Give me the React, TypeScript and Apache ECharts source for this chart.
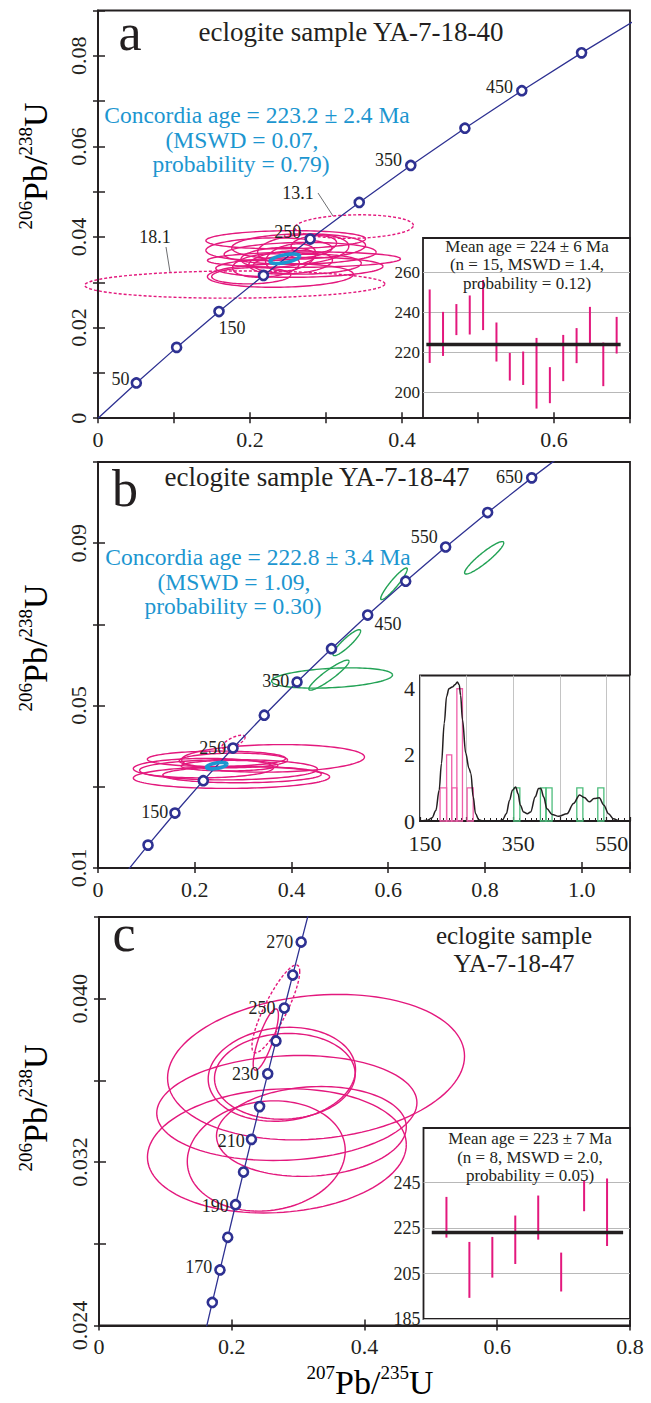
import React, { useEffect, useRef } from 'react';
import * as echarts from 'echarts';

const FONT = "'Liberation Serif', 'Times New Roman', serif";
const INK = '#231f20';
const NAVY = '#2e3192';
const PINK = '#e3187d';
const GREEN = '#22a255';
const CYAN = '#1c96d0';
const HIST_PINK = '#ef5fa9';
const HIST_GREEN = '#4dbd7c';

// Concordia reference points (207Pb/235U, 206Pb/238U) every 50 Ma
const conc50Age = [0, 50, 100, 150, 200, 250, 300, 350, 400, 450, 500, 550, 600, 650, 700];
const conc50X = [0, 0.05048, 0.1035, 0.15919, 0.21771, 0.27917, 0.34374, 0.41156, 0.48281, 0.55766, 0.63628, 0.71887, 0.80563, 0.89677, 0.99252];
const conc50Y = [0, 0.007786, 0.015633, 0.023542, 0.031511, 0.039543, 0.047637, 0.055794, 0.064016, 0.072294, 0.08065, 0.089064, 0.097544, 0.10609, 0.1147];
// Concordia reference points every 10 Ma
const conc10Age = [150, 160, 170, 180, 190, 200, 210, 220, 230, 240, 250, 260, 270, 280];
const conc10X = [0.15919, 0.17068, 0.18226, 0.19396, 0.20577, 0.21771, 0.22975, 0.24192, 0.25422, 0.26664, 0.27917, 0.29183, 0.30459, 0.31753];
const conc10Y = [0.023542, 0.025131, 0.026722, 0.028316, 0.029913, 0.031511, 0.033113, 0.034717, 0.036323, 0.037932, 0.039543, 0.041157, 0.042773, 0.044392];

const markerAgesA = [50, 100, 150, 200, 250, 300, 350, 400, 450, 500];
const labelAgesA = [50, 150, 250, 350, 450];
const markerAgesB = [100, 150, 200, 250, 300, 350, 400, 450, 500, 550, 600, 650];
const labelAgesB = [150, 250, 350, 450, 550, 650];
const markerAgesC = [160, 170, 180, 190, 200, 210, 220, 230, 240, 250, 260, 270];
const labelAgesC = [170, 190, 210, 230, 250, 270];

// error ellipses: [x centre, y centre, x half-width, y half-width, correlation]
const ellipsesA = [
  [0.247, 0.0394, 0.105, 0.002, 0.1],
  [0.225, 0.0373, 0.083, 0.0025, 0.1],
  [0.271, 0.035, 0.127, 0.0017, 0.1],
  [0.24, 0.0315, 0.096, 0.0026, 0.1],
  [0.265, 0.0333, 0.11, 0.0022, 0.1],
  [0.266, 0.0364, 0.1, 0.0024, 0.1],
  [0.264, 0.0379, 0.088, 0.0028, 0.1],
  [0.237, 0.0355, 0.049, 0.0022, 0.2],
  [0.2535, 0.0344, 0.055, 0.0026, 0.2],
  [0.27, 0.0373, 0.06, 0.0033, 0.2],
  [0.2535, 0.0355, 0.033, 0.003, 0.3],
  [0.221, 0.0337, 0.044, 0.0026, 0.2],
  [0.2755, 0.034, 0.071, 0.0022, 0.1],
  [0.284, 0.0383, 0.03, 0.002, 0.2],
  [0.2016, 0.03145, 0.052, 0.0018, 0.1],
];
const dashedA = [
  [0.337, 0.0423, 0.078, 0.0026, 0.1],
  [0.18, 0.0295, 0.1975, 0.003, 0.05],
];
const concordiaEllA = [[0.2458, 0.0352, 0.0194, 0.00105, 0.55]];

const ellipsesB = [
  [0.362, 0.037, 0.189, 0.0034, 0.1],
  [0.276, 0.0323, 0.203, 0.0027, 0.05],
  [0.245, 0.0369, 0.143, 0.0019, 0.05],
  [0.27, 0.0342, 0.184, 0.0025, 0.05],
  [0.298, 0.033, 0.164, 0.002, 0.05],
  [0.28, 0.0365, 0.112, 0.0018, 0.05],
  [0.272, 0.0352, 0.1, 0.0013, 0.05],
  [0.218, 0.0346, 0.145, 0.0024, 0.05],
];
const dashedB = [[0.28, 0.041, 0.024, 0.0017, 0.7]];
const concordiaEllB = [[0.2454, 0.0352, 0.021, 0.0008, 0.5]];
const greenB = [
  [0.7985, 0.0864, 0.0405, 0.004, 0.92],
  [0.612, 0.08, 0.0275, 0.0039, 0.93],
  [0.5145, 0.0655, 0.0285, 0.0032, 0.9],
  [0.484, 0.0568, 0.125, 0.0025, 0.3],
  [0.4775, 0.0575, 0.0415, 0.0037, 0.92],
];

const ellipsesC = [
  [0.327, 0.03665, 0.2237, 0.00356, 0.15],
  [0.283, 0.03465, 0.196, 0.00257, 0.1],
  [0.268, 0.03255, 0.195, 0.00304, 0.1],
  [0.252, 0.0323, 0.119, 0.0027, 0.1],
  [0.32, 0.0335, 0.143, 0.0022, 0.1],
  [0.2755, 0.0363, 0.111, 0.0023, 0.1],
  [0.28, 0.0362, 0.106, 0.0021, 0.05],
  [0.2513, 0.038, 0.019, 0.0015, 0.8],
];
const dashedC = [[0.2664, 0.0395, 0.036, 0.00215, 0.85]];

// weighted-mean insets (206Pb/238U ages, Ma)
const lowA = [214.8, 218.3, 228.7, 229, 231.2, 215.5, 206, 203.8, 192, 194.7, 205.7, 214.7, 224.3, 203.2, 219.5];
const highA = [251.5, 240.3, 244.2, 248.5, 256.2, 235, 219.8, 220.5, 227.3, 212.7, 228.8, 232.2, 242.8, 225, 237.8];
const meanA = 224;
const lowC = [220.8, 194.3, 203.2, 209.2, 219.9, 197.1, 232.4, 217.1];
const highC = [238.7, 218.9, 221.1, 230.5, 239.3, 214.2, 246, 246.8];
const meanC = 223;
const insetTicksA = [200, 220, 240, 260];
const insetTicksC = [185, 205, 225, 245];

// age histogram + probability density (panel b inset)
const pinkBinStart = [193, 207, 218, 229, 251];
const pinkBinEnd = [207, 218, 229, 241, 264];
const pinkCount = [1, 2, 1, 4, 1];
const greenBinStart = [351, 408, 420, 486, 531];
const greenBinEnd = [364, 420, 433, 499, 544];
const greenCount = [1, 1, 1, 1, 1];
const kdeAge = [152, 166, 176, 184, 191, 196, 202, 207, 212, 219, 225, 230, 234, 237, 241, 248, 255, 259, 264, 269, 276, 285, 318, 327, 335, 342, 348, 355, 360, 365, 372, 380, 387, 397, 404, 409, 415, 422, 433, 447, 465, 479, 492, 502, 513, 523, 534, 544, 554, 564, 578, 600];
const kdeDensity = [0, 0.02, 0.1, 0.32, 0.93, 1.74, 2.96, 3.77, 4.0, 4.05, 4.12, 4.2, 4.12, 3.8, 3.06, 2.05, 1.59, 1.44, 0.73, 0.22, 0.04, 0, 0, 0.04, 0.22, 0.63, 0.93, 1.03, 0.83, 0.48, 0.27, 0.22, 0.27, 0.73, 0.98, 0.98, 0.73, 0.37, 0.2, 0.14, 0.22, 0.53, 0.79, 0.71, 0.58, 0.68, 0.7, 0.48, 0.22, 0.07, 0, 0];

// label placement (style only)
const lblA: Record<number, any> = {
  50: { position: 'left', distance: 1, offset: [0, -4] },
  150: { position: 'bottom', distance: 2, offset: [13, 0] },
  250: { position: 'left', distance: 3, offset: [0, -7] },
  350: { position: 'left', distance: 3, offset: [0, -5] },
  450: { position: 'left', distance: 3, offset: [0, -4] },
};
const lblB: Record<number, any> = {
  150: { position: 'left', distance: 1, offset: [0, -1] },
  250: { position: 'left', distance: 1, offset: [0, 0] },
  350: { position: 'left', distance: 2, offset: [0, -1] },
  450: { position: 'right', distance: 1, offset: [0, 9] },
  550: { position: 'left', distance: 2, offset: [0, -10] },
  650: { position: 'left', distance: 3, offset: [0, -1] },
};
const lblC: Record<number, any> = {
  170: { position: 'left', distance: 2, offset: [0, -3] },
  190: { position: 'left', distance: 1, offset: [0, 1] },
  210: { position: 'left', distance: 1, offset: [0, 2] },
  230: { position: 'left', distance: 3, offset: [0, 0] },
  250: { position: 'left', distance: 3, offset: [0, 0] },
  270: { position: 'left', distance: 2, offset: [0, 0] },
};

function ellipseSeries(data: number[][], xi: number, yi: number, color: string, width: number, dash: number[] | null, z: number) {
  return {
    type: 'custom',
    xAxisIndex: xi,
    yAxisIndex: yi,
    clip: false,
    silent: true,
    z,
    data,
    renderItem: (params: any, api: any) => {
      const cx = api.value(0), cy = api.value(1), sx = api.value(2), sy = api.value(3), r = api.value(4);
      const q = Math.sqrt(1 - r * r);
      const pts: number[][] = [];
      for (let k = 0; k <= 120; k++) {
        const t = (k / 120) * Math.PI * 2;
        pts.push(api.coord([cx + sx * Math.cos(t), cy + sy * (r * Math.cos(t) + q * Math.sin(t))]));
      }
      return {
        type: 'polyline',
        shape: { points: pts },
        style: { fill: 'none', stroke: color, lineWidth: width, lineDash: dash || undefined },
      };
    },
  };
}

function concordiaLine(ages: number[], xs: number[], ys: number[], maxAge: number, xi: number, yi: number) {
  const data: number[][] = [];
  ages.forEach((a, i) => { if (a <= maxAge) data.push([xs[i], ys[i]]); });
  return {
    type: 'line', xAxisIndex: xi, yAxisIndex: yi, data, showSymbol: false, silent: true, z: 3, clip: true,
    lineStyle: { color: NAVY, width: 1.3 },
  };
}

function markerSeries(ages: number[], labelAges: number[], cfg: Record<number, any>, tAge: number[], tX: number[], tY: number[], xi: number, yi: number) {
  const data = ages.map((a) => {
    const i = tAge.indexOf(a);
    const show = labelAges.indexOf(a) >= 0;
    return {
      value: [tX[i], tY[i]],
      label: show
        ? { show: true, formatter: String(a), fontSize: 18, fontFamily: FONT, color: INK, ...cfg[a] }
        : { show: false },
    };
  });
  return {
    type: 'scatter', xAxisIndex: xi, yAxisIndex: yi, data, symbol: 'circle', symbolSize: 9, z: 6, silent: true,
    itemStyle: { color: '#ffffff', borderColor: NAVY, borderWidth: 2.6, opacity: 1 },
  };
}

function errorBarSeries(low: number[], high: number[], xi: number, yi: number) {
  return {
    type: 'custom', xAxisIndex: xi, yAxisIndex: yi, silent: true, z: 4,
    data: low.map((l, i) => [i + 1, l, high[i]]),
    renderItem: (params: any, api: any) => {
      const p1 = api.coord([api.value(0), api.value(1)]);
      const p2 = api.coord([api.value(0), api.value(2)]);
      return { type: 'line', shape: { x1: p1[0], y1: p1[1], x2: p2[0], y2: p2[1] }, style: { stroke: PINK, lineWidth: 2 } };
    },
  };
}

function histSeries(start: number[], end: number[], count: number[], color: string, xi: number, yi: number) {
  return {
    type: 'custom', xAxisIndex: xi, yAxisIndex: yi, silent: true, z: 3,
    data: start.map((s, i) => [s, end[i], count[i]]),
    renderItem: (params: any, api: any) => {
      const p1 = api.coord([api.value(0), api.value(2)]);
      const p2 = api.coord([api.value(1), 0]);
      return {
        type: 'rect',
        shape: { x: p1[0], y: p1[1], width: p2[0] - p1[0], height: p2[1] - p1[1] },
        style: { fill: 'none', stroke: color, lineWidth: 1.3 },
      };
    },
  };
}

const tickFont = { fontSize: 22, fontFamily: FONT, color: INK };

function mainX(grid: number, min: number, max: number, interval: number, fmt: (v: number) => string) {
  return {
    type: 'value', gridIndex: grid, min, max, interval, position: 'bottom',
    axisLine: { show: true, onZero: false, lineStyle: { color: INK, width: 1.8 } },
    axisTick: { show: true, inside: false, length: 5, lineStyle: { color: INK, width: 1.5 } },
    axisLabel: { show: true, formatter: fmt, margin: 10, ...tickFont },
    splitLine: { show: false },
  };
}
function dupX(grid: number, min: number, max: number, interval: number) {
  return {
    type: 'value', gridIndex: grid, min, max, interval, position: 'bottom',
    axisLine: { show: false }, axisLabel: { show: false }, splitLine: { show: false },
    axisTick: { show: true, inside: true, length: 6, lineStyle: { color: INK, width: 1.5 } },
  };
}
function mainY(grid: number, min: number, max: number, interval: number, fmt: (v: number) => string) {
  return {
    type: 'value', gridIndex: grid, min, max, interval, position: 'left',
    axisLine: { show: true, onZero: false, lineStyle: { color: INK, width: 1.8 } },
    axisTick: { show: true, inside: false, length: 5, lineStyle: { color: INK, width: 1.5 } },
    axisLabel: { show: true, formatter: fmt, rotate: 90, margin: 9, ...tickFont },
    splitLine: { show: false },
  };
}
function dupY(grid: number, min: number, max: number, interval: number) {
  return {
    type: 'value', gridIndex: grid, min, max, interval, position: 'left',
    axisLine: { show: false }, axisLabel: { show: false }, splitLine: { show: false },
    axisTick: { show: true, inside: true, length: 7, lineStyle: { color: INK, width: 1.5 } },
  };
}
function hiddenAxis(grid: number, min: number, max: number) {
  return { type: 'value', gridIndex: grid, min, max, show: false, splitLine: { show: false } };
}
function meanInsetY(grid: number, min: number, max: number, ticks: number[], fs: number) {
  return {
    type: 'value', gridIndex: grid, min, max, position: 'left',
    axisLine: { show: false },
    axisTick: { show: false, customValues: ticks },
    axisLabel: { show: true, customValues: ticks, margin: 3, fontSize: fs, fontFamily: FONT, color: INK },
    splitLine: { show: true, lineStyle: { color: '#b8b8b8', width: 1 } },
  };
}

const fmtAx = (v: number) => { const k = Math.round(v * 10); return k % 2 ? '' : k === 0 ? '0' : (k / 10).toFixed(1); };
const fmtAy = (v: number) => { const k = Math.round(v * 100); return k % 2 ? '' : k === 0 ? '0' : (k / 100).toFixed(2); };
const fmtBx = (v: number) => { const k = Math.round(v * 10); return k % 2 || k > 10 ? '' : k === 0 ? '0' : (k / 10).toFixed(1); };
const fmtBy = (v: number) => { const k = Math.round((v - 0.01) / 0.02); return k % 2 ? '' : v.toFixed(2); };
const fmtCx = (v: number) => { const k = Math.round(v * 10); return k === 0 ? '0' : (k / 10).toFixed(1); };
const fmtCy = (v: number) => { const k = Math.round((v - 0.024) / 0.004); return k % 2 ? '' : v.toFixed(3); };

const yTitleRich = {
  s: { fontSize: 19, fontFamily: FONT, color: INK, verticalAlign: 'top', lineHeight: 20 },
  b: { fontSize: 34, fontFamily: FONT, color: INK, verticalAlign: 'bottom', lineHeight: 36 },
};
const titleText = (pre: string, post: string) => `{s|${pre}}{b|Pb/}{s|${post}}{b|U}`;

function txt(x: number, y: number, text: string, size: number, color = INK, align = 'center') {
  return { type: 'text', x, y, silent: true, z: 50, style: { text, fontSize: size, fontFamily: FONT, fill: color, align, verticalAlign: 'middle' } };
}

export default function App() {
  const ref = useRef<HTMLDivElement>(null);
  useEffect(() => {
    if (!ref.current) return;
    const chart = echarts.init(ref.current, null, { renderer: 'svg' });
    const gridBase = { show: true, borderColor: INK, borderWidth: 1.8, containLabel: false, outerBoundsMode: 'none' };
    const option: any = {
      animation: false,
      backgroundColor: '#ffffff',
      grid: [
        { ...gridBase, left: 98, top: 10.5, width: 532, height: 407.7, backgroundColor: 'transparent' },
        { ...gridBase, left: 423, top: 238, width: 207, height: 180.2, backgroundColor: '#ffffff' },
        { ...gridBase, left: 98, top: 462, width: 532, height: 406, backgroundColor: 'transparent' },
        { ...gridBase, left: 420, top: 675.5, width: 210, height: 145.5, backgroundColor: '#ffffff' },
        { ...gridBase, left: 99, top: 917, width: 531, height: 408.5, backgroundColor: 'transparent' },
        { ...gridBase, left: 423.5, top: 1128, width: 206.5, height: 191, backgroundColor: '#ffffff' },
      ],
      xAxis: [
        mainX(0, 0, 0.7, 0.1, fmtAx),
        dupX(0, 0, 0.7, 0.1),
        hiddenAxis(1, 0.5, 16),
        mainX(2, 0, 1.1, 0.2, fmtBx),
        dupX(2, 0, 1.1, 0.2),
        {
          type: 'value', gridIndex: 3, min: 150, max: 600, interval: 100, position: 'bottom',
          axisLine: { show: true, onZero: false, lineStyle: { color: INK, width: 1.6 } },
          axisTick: { show: true, inside: true, length: 4, lineStyle: { color: INK, width: 1.2 } },
          minorTick: { show: true, splitNumber: 8, length: 3, lineStyle: { color: INK, width: 1 } },
          axisLabel: { formatter: (v: number) => ((v - 150) % 200 === 0 ? String(v) : ''), margin: 11, padding: [0, 0, 0, 10], ...tickFont },
          splitLine: { show: true, lineStyle: { color: '#c4c4c4', width: 1 } },
        },
        mainX(4, 0, 0.8, 0.2, fmtCx),
        dupX(4, 0, 0.8, 0.2),
        hiddenAxis(5, 0, 9),
      ],
      yAxis: [
        mainY(0, 0, 0.09, 0.01, fmtAy),
        dupY(0, 0, 0.09, 0.01),
        meanInsetY(1, 187.2, 277.2, insetTicksA, 17),
        mainY(2, 0.01, 0.11, 0.02, fmtBy),
        dupY(2, 0.01, 0.11, 0.02),
        {
          type: 'value', gridIndex: 3, min: 0, max: 4.4, interval: 2, position: 'left',
          axisLine: { show: false }, axisTick: { show: false }, splitLine: { show: false },
          axisLabel: { formatter: (v: number) => (v > 4.01 ? '' : String(v)), margin: 5, ...tickFont },
        },
        mainY(4, 0.024, 0.044, 0.004, fmtCy),
        dupY(4, 0.024, 0.044, 0.004),
        meanInsetY(5, 185, 269, insetTicksC, 18),
      ],
      series: [
        // panel a
        ellipseSeries(ellipsesA, 0, 0, PINK, 1.4, null, 2),
        ellipseSeries(dashedA, 0, 0, PINK, 1.4, [3, 2], 2),
        concordiaLine(conc50Age, conc50X, conc50Y, 550, 0, 0),
        ellipseSeries(concordiaEllA, 0, 0, CYAN, 3.6, null, 5),
        markerSeries(markerAgesA, labelAgesA, lblA, conc50Age, conc50X, conc50Y, 0, 0),
        // inset a
        errorBarSeries(lowA, highA, 2, 2),
        {
          type: 'line', xAxisIndex: 2, yAxisIndex: 2, data: [[0.75, meanA], [15.3, meanA]], showSymbol: false, silent: true, z: 5,
          lineStyle: { color: INK, width: 3.5 },
        },
        // panel b
        ellipseSeries(ellipsesB, 3, 3, PINK, 1.4, null, 2),
        ellipseSeries(dashedB, 3, 3, PINK, 1.4, [3, 2], 2),
        ellipseSeries(greenB, 3, 3, GREEN, 1.4, null, 2),
        concordiaLine(conc50Age, conc50X, conc50Y, 700, 3, 3),
        ellipseSeries(concordiaEllB, 3, 3, CYAN, 3.6, null, 5),
        markerSeries(markerAgesB, labelAgesB, lblB, conc50Age, conc50X, conc50Y, 3, 3),
        // inset b
        histSeries(pinkBinStart, pinkBinEnd, pinkCount, HIST_PINK, 5, 5),
        histSeries(greenBinStart, greenBinEnd, greenCount, HIST_GREEN, 5, 5),
        {
          type: 'line', xAxisIndex: 5, yAxisIndex: 5, data: kdeAge.map((a, i) => [a, kdeDensity[i]]),
          showSymbol: false, silent: true, smooth: 0.35, smoothMonotone: 'x', z: 5,
          lineStyle: { color: INK, width: 1.5 },
        },
        // panel c
        ellipseSeries(ellipsesC, 6, 6, PINK, 1.4, null, 2),
        ellipseSeries(dashedC, 6, 6, PINK, 1.4, [3, 2], 2),
        concordiaLine(conc10Age, conc10X, conc10Y, 280, 6, 6),
        markerSeries(markerAgesC, labelAgesC, lblC, conc10Age, conc10X, conc10Y, 6, 6),
        // inset c
        errorBarSeries(lowC, highC, 8, 8),
        {
          type: 'line', xAxisIndex: 8, yAxisIndex: 8, data: [[0.36, meanC], [8.7, meanC]], showSymbol: false, silent: true, z: 5,
          lineStyle: { color: INK, width: 3.5 },
        },
      ],
      graphic: [
        txt(130, 32, 'a', 52),
        txt(125, 488, 'b', 52),
        txt(124, 933, 'c', 52),
        txt(351, 32, 'eclogite sample YA-7-18-40', 27),
        txt(317, 477, 'eclogite sample YA-7-18-47', 27),
        txt(514, 935, 'eclogite sample', 25),
        txt(514, 963, 'YA-7-18-47', 25),
        txt(257, 115, 'Concordia age = 223.2 ± 2.4 Ma', 23.5, CYAN),
        txt(242, 139.5, '(MSWD = 0.07,', 23.5, CYAN),
        txt(241, 164, 'probability = 0.79)', 23.5, CYAN),
        txt(258, 557, 'Concordia age = 222.8 ± 3.4 Ma', 23.5, CYAN),
        txt(234, 581.5, '(MSWD = 1.09,', 23.5, CYAN),
        txt(233, 606, 'probability = 0.30)', 23.5, CYAN),
        txt(298, 193, '13.1', 18),
        txt(155, 237, '18.1', 18),
        { type: 'line', silent: true, z: 50, shape: { x1: 318, y1: 193, x2: 333, y2: 216 }, style: { stroke: '#6d6e71', lineWidth: 1 } },
        { type: 'line', silent: true, z: 50, shape: { x1: 166, y1: 247, x2: 170, y2: 272 }, style: { stroke: '#6d6e71', lineWidth: 1 } },
        txt(527, 246, 'Mean age = 224 ± 6 Ma', 17),
        txt(527, 264.5, '(n = 15, MSWD = 1.4,', 17),
        txt(527, 283, 'probability = 0.12)', 17),
        txt(530, 1138, 'Mean age = 223 ± 7 Ma', 17),
        txt(530, 1157, '(n = 8, MSWD = 2.0,', 17),
        txt(530, 1175, 'probability = 0.05)', 17),
        { type: 'text', x: 34, y: 166, rotation: Math.PI / 2, silent: true, z: 50, style: { text: titleText('206', '238'), rich: yTitleRich, align: 'center', verticalAlign: 'middle' } },
        { type: 'text', x: 34, y: 648, rotation: Math.PI / 2, silent: true, z: 50, style: { text: titleText('206', '238'), rich: yTitleRich, align: 'center', verticalAlign: 'middle' } },
        { type: 'text', x: 34, y: 1108, rotation: Math.PI / 2, silent: true, z: 50, style: { text: titleText('206', '238'), rich: yTitleRich, align: 'center', verticalAlign: 'middle' } },
        { type: 'text', x: 370, y: 1381, silent: true, z: 50, style: { text: titleText('207', '235'), rich: yTitleRich, align: 'center', verticalAlign: 'middle' } },
      ],
    };
    chart.setOption(option);
    return () => chart.dispose();
  }, []);
  return <div ref={ref} style={{ position: 'absolute', left: 0, top: 0, width: 651, height: 1403, background: '#fff' }} />;
}
